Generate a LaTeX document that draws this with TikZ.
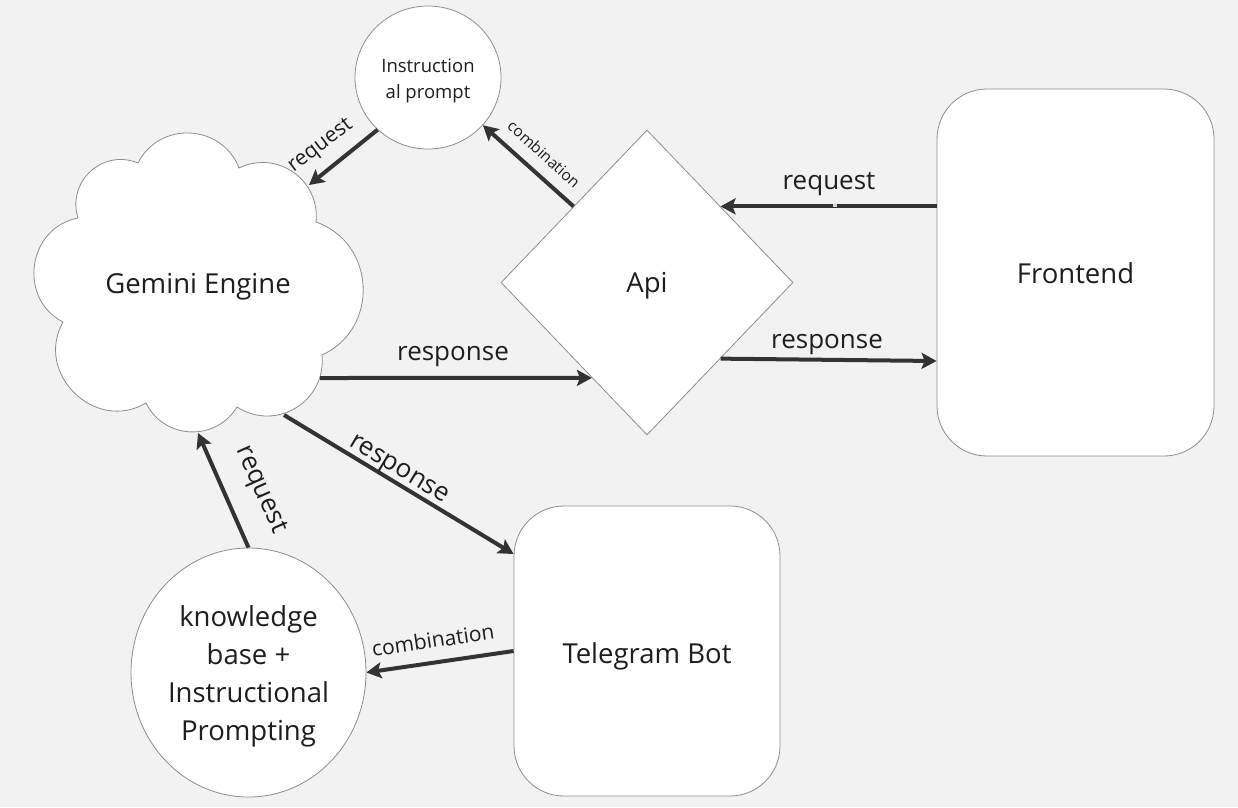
\documentclass[tikz,border=0pt]{standalone}
\usepackage{fontspec}
\setmainfont{Open Sans}
\usetikzlibrary{shapes.geometric,arrows.meta}
\definecolor{bg}{HTML}{F2F2F2}
\definecolor{ink}{HTML}{333333}
\definecolor{edgec}{HTML}{8C8C8C}
\definecolor{txt}{HTML}{1E1E1E}
\definecolor{tick}{HTML}{D8D8D8}
\begin{document}
\begin{tikzpicture}[x=1pt,y=-1pt,
  shp/.style={draw=edgec, line width=0.8pt, fill=white, text=txt, inner sep=0pt, align=center},
  big/.style={font=\fontsize{27.5}{38}\selectfont},
  arr/.style={draw=ink, line width=4pt, -{Stealth[length=15pt,width=16pt,inset=3pt]}},
  lbl/.style={text=txt, inner sep=0pt, font=\fontsize{26}{30}\selectfont}]
\fill[bg] (0,0) rectangle (1238,807);
\useasboundingbox (0,0) rectangle (1238,807);
% cloud
\filldraw[fill=white, draw=edgec, line width=0.8pt]
  (138,163) to[bend left=66,looseness=1.2] (239,168)
  to[bend left=61,looseness=1.15] (316,222)
  to[bend left=68,looseness=1.22] (322,355)
  to[bend left=64,looseness=1.2] (237,407)
  to[bend left=61,looseness=1.15] (146,403)
  to[bend left=75,looseness=1.3] (63,322)
  to[bend left=71,looseness=1.25] (78,218)
  to[bend left=65,looseness=1.2] cycle;
\node[text=txt, inner sep=0pt, big] (gem) at (198,287) {Gemini Engine};
\coordinate (gin1) at (309,185);
\coordinate (gout1) at (320,378);
\coordinate (gout2) at (284,415);
\coordinate (gin2) at (198,433);
% nodes
\node[shp, ellipse, minimum width=146pt, minimum height=143pt, font=\fontsize{18.5}{26}\selectfont] (ip) at (428,77.5) {\rule{0pt}{20pt}Instruction\\al prompt};
\node[shp, diamond, minimum width=292pt, minimum height=305pt, big] (api) at (647,282.5) {\rule{0pt}{27.5pt}Api};
\node[shp, rectangle, rounded corners=50pt, minimum width=277pt, minimum height=367pt, big] (fe) at (1075.5,272.5) {\rule{0pt}{23pt}Frontend};
\node[shp, rectangle, rounded corners=50pt, minimum width=266pt, minimum height=290pt, big] (tg) at (647,651) {\rule{0pt}{31pt}Telegram Bot};
\node[shp, ellipse, minimum width=235pt, minimum height=249pt, big] (kb) at (248.5,672.5) {\rule{0pt}{29pt}knowledge\\base +\\Instructional\\Prompting};
% connectors
\draw[arr] (ip.226) -- (gin1);
\draw[arr] (api.134) -- (ip.319);
\draw[arr] (fe.west |- api.46) -- (api.46);
\fill[tick] (833,203.5) rectangle (837,207);
\draw[arr] (api.-46) -- (fe.west |- 0,361);
\draw[arr] (gout1) -- (api.240);
\draw[arr] (gout2) -- (tg.west |- 0,554);
\draw[arr] (kb.north) -- (gin2);
\draw[arr] (tg.west) -- (kb.east);
% labels
\node[lbl, font=\fontsize{21}{24}\selectfont, rotate=37] (l1) at (321,146) {request};
\node[lbl, font=\fontsize{15.5}{18}\selectfont, rotate=-42] (l2) at (544,154) {combination};
\node[lbl] (l3) at (829,184) {request};
\node[lbl] (l4) at (827,345) {response};
\node[lbl] (l5) at (453,357) {response};
\node[lbl, rotate=-31] (l6) at (398,471) {response};
\node[lbl, rotate=-66] (l7) at (260,490) {request};
\node[lbl, font=\fontsize{21}{24}\selectfont, rotate=8.5] (l8) at (433,640) {combination};
\end{tikzpicture}
\end{document}
